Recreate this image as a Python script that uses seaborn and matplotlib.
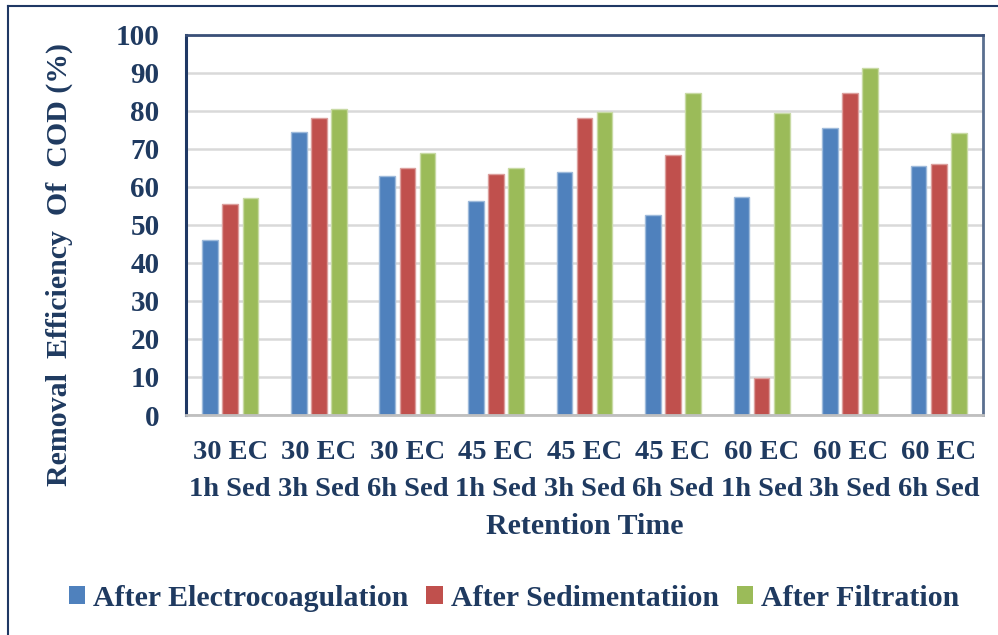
import numpy as np
import pandas as pd
import matplotlib
matplotlib.use("Agg")
import matplotlib.pyplot as plt
import matplotlib.colors as mcolors
from matplotlib.lines import Line2D
from matplotlib.patches import Patch
import seaborn as sns

# ---- data -------------------------------------------------------------
categories = ["30 EC 1h Sed", "30 EC 3h Sed", "30 EC 6h Sed",
              "45 EC 1h Sed", "45 EC 3h Sed", "45 EC 6h Sed",
              "60 EC 1h Sed", "60 EC 3h Sed", "60 EC 6h Sed"]
tick_labels = ["30 EC\n1h Sed", "30 EC\n3h Sed", "30 EC\n6h Sed",
               "45 EC\n1h Sed", "45 EC\n3h Sed", "45 EC\n6h Sed",
               "60 EC\n1h Sed", "60 EC\n3h Sed", "60 EC\n6h Sed"]
electrocoagulation = [46.0, 74.4, 63.0, 56.3, 64.0, 52.5, 57.4, 75.5, 65.4]
sedimentation = [55.5, 78.2, 64.9, 63.4, 78.2, 68.4, 9.7, 84.7, 66.0]
filtration = [57.0, 80.4, 68.9, 65.0, 79.8, 84.7, 79.5, 91.2, 74.2]
series_names = ["After Electrocoagulation", "After Sedimentatiion", "After Filtration"]
y_ticks = [0, 10, 20, 30, 40, 50, 60, 70, 80, 90, 100]

colors = ["#4F81BD", "#C0504D", "#9BBB59"]
text_color = "#1F3A60"

df = pd.DataFrame({
    "Retention Time": categories * 3,
    "Series": np.repeat(series_names, len(categories)),
    "Removal": electrocoagulation + sedimentation + filtration,
})

plt.rcParams["font.family"] = ["Liberation Serif", "DejaVu Serif"]
plt.rcParams["font.weight"] = "bold"

W, H = 998, 635
fig = plt.figure(figsize=(W / 100, H / 100), dpi=100)
ax = fig.add_axes([186 / W, 1 - 415 / H, (983 - 186) / W, (415 - 35) / H])

sns.barplot(data=df, x="Retention Time", y="Removal", hue="Series",
            hue_order=series_names, palette=colors, saturation=1,
            width=0.68, gap=0.22, errorbar=None, legend=False, ax=ax)

# light rim around each bar
for p in ax.patches:
    fc = np.array(mcolors.to_rgb(p.get_facecolor()))
    p.set_edgecolor(tuple(fc + (1 - fc) * 0.45))
    p.set_linewidth(1.0)

ax.set_ylim(0, 100)
ax.set_xlim(-0.5, len(categories) - 0.5)
ax.set_yticks(y_ticks)
ax.set_yticklabels([str(v) for v in y_ticks])
ax.set_xticks(range(len(categories)))
ax.set_xticklabels(tick_labels, linespacing=1.62)
ax.yaxis.grid(True, color="#D9D9D9", lw=1.8)
ax.set_axisbelow(True)
ax.set_xlabel("")
ax.set_ylabel("")

ax.tick_params(axis="y", length=0, pad=19, labelsize=21, labelcolor=text_color)
ax.tick_params(axis="x", length=0, pad=18, labelsize=20.5, labelcolor=text_color)

ax.spines["left"].set_color("#1F3864")
ax.spines["left"].set_linewidth(2.2)
ax.spines["top"].set_color("#3A5078")
ax.spines["top"].set_linewidth(2.0)
ax.spines["right"].set_color("#5A6F8F")
ax.spines["right"].set_linewidth(2.0)
ax.spines["bottom"].set_color("#BFBFBF")
ax.spines["bottom"].set_linewidth(2.0)

fig.text(59 / W, 1 - 264 / H, "Removal  Efficiency  Of  COD (%)", rotation=90,
         ha="center", va="center", fontsize=21.5, color=text_color)
fig.text(585 / W, 1 - 527 / H, "Retention Time",
         ha="center", va="center", fontsize=21.5, color=text_color)

handles = [Patch(facecolor=c, edgecolor="none") for c in colors]
fig.legend(handles, series_names, loc="center", ncol=3, frameon=False,
           bbox_to_anchor=(514 / W, 1 - 598 / H), fontsize=21.5,
           labelcolor=text_color, handlelength=0.55, handleheight=0.55,
           handletextpad=0.27, columnspacing=0.6, borderaxespad=0)

# outer frame (top and left edges)
fig.add_artist(Line2D([8 / W, 1], [1 - 6 / H, 1 - 6 / H], transform=fig.transFigure,
                      color="#1F3864", lw=1.5))
fig.add_artist(Line2D([8 / W, 8 / W], [0, 1 - 6 / H], transform=fig.transFigure,
                      color="#1F3864", lw=1.5))

fig.savefig("out.png", dpi=100)
